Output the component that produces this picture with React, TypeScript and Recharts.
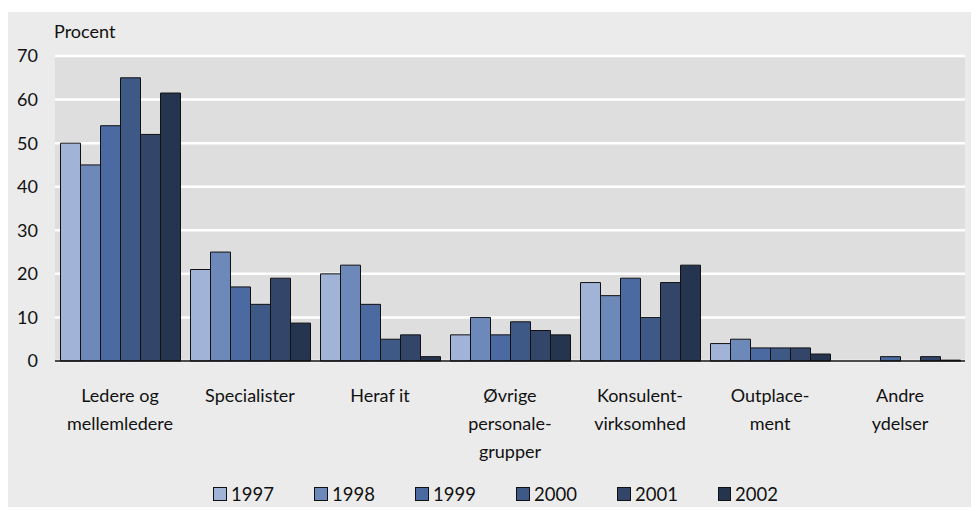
import { BarChart, Bar, XAxis, YAxis, CartesianGrid, Legend } from 'recharts';

const CATEGORIES = [
  'Ledere og\nmellemledere',
  'Specialister',
  'Heraf it',
  'Øvrige\npersonale-\ngrupper',
  'Konsulent-\nvirksomhed',
  'Outplace-\nment',
  'Andre\nydelser',
];

const YEARS = ['1997', '1998', '1999', '2000', '2001', '2002'];

const V1997 = [50, 21, 20, 6, 18, 4, 0];
const V1998 = [45, 25, 22, 10, 15, 5, 0];
const V1999 = [54, 17, 13, 6, 19, 3, 1];
const V2000 = [65, 13, 5, 9, 10, 3, 0];
const V2001 = [52, 19, 6, 7, 18, 3, 1];
const V2002 = [61.5, 8.7, 1, 6, 22, 1.6, 0.2];

const SERIES = [V1997, V1998, V1999, V2000, V2001, V2002];
const COLORS = ['#a1b3d6', '#6d89b9', '#4b6aa1', '#3f5986', '#334568', '#26354f'];
const Y_TICKS = [0, 10, 20, 30, 40, 50, 60, 70];

const data = CATEGORIES.map((name, i) => {
  const row: Record<string, string | number> = { name };
  YEARS.forEach((y, s) => {
    row[y] = SERIES[s][i];
  });
  return row;
});

const FONT = 'Lato, "Open Sans", sans-serif';

function CategoryTick(props: any) {
  const { x, y, payload } = props;
  const lines = String(payload.value).split('\n');
  return (
    <text x={x} y={y + 41} textAnchor="middle" fontSize={18} fill="#111" fontFamily={FONT}>
      {lines.map((l, i) => (
        <tspan key={i} x={x} dy={i === 0 ? 0 : 28}>
          {l}
        </tspan>
      ))}
    </text>
  );
}

function LegendBox() {
  return (
    <div
      style={{
        height: 28,
        paddingBottom: 3,
        paddingLeft: 18,
        display: 'flex',
        justifyContent: 'center',
        alignItems: 'center',
        fontFamily: FONT,
        fontSize: 18.5,
        color: '#111',
      }}
    >
      {YEARS.map((y, i) => (
        <div
          key={y}
          style={{
            display: 'flex',
            alignItems: 'center',
            width: i === YEARS.length - 1 ? 60 : 101,
          }}
        >
          <span
            style={{
              width: 12,
              height: 12,
              background: COLORS[i],
              border: '1px solid #111',
              marginRight: 4,
              display: 'inline-block',
            }}
          />
          <span>{y}</span>
        </div>
      ))}
    </div>
  );
}

export default function App() {
  return (
    <div style={{ position: 'relative', top: 4, width: 971, height: 499, background: '#ebebeb' }}>
      <BarChart
        width={971}
        height={499}
        data={data}
        margin={{ top: 44, right: 14, left: 0, bottom: 0 }}
        barGap={0}
        barCategoryGap={5.5}
      >
        <CartesianGrid vertical={false} stroke="#ffffff" strokeWidth={2.5} fill="#dedede" />
        <XAxis
          dataKey="name"
          height={119}
          tickLine={false}
          tickSize={0}
          tickMargin={0}
          interval={0}
          axisLine={{ stroke: '#111', strokeWidth: 1.5 }}
          tick={<CategoryTick />}
        />
        <YAxis
          width={47}
          domain={[0, 70]}
          ticks={Y_TICKS}
          tickLine={false}
          axisLine={false}
          tickSize={0}
          tickMargin={17}
          tick={{ fontSize: 18, fill: '#111', fontFamily: FONT }}
        />
        <Legend verticalAlign="bottom" content={<LegendBox />} />
        {YEARS.map((y, i) => (
          <Bar
            key={y}
            dataKey={y}
            fill={COLORS[i]}
            stroke="#111"
            strokeWidth={1}
            isAnimationActive={false}
          />
        ))}
        <text x={46} y={26} fontSize={18} fill="#111" fontFamily={FONT}>
          Procent
        </text>
      </BarChart>
    </div>
  );
}
